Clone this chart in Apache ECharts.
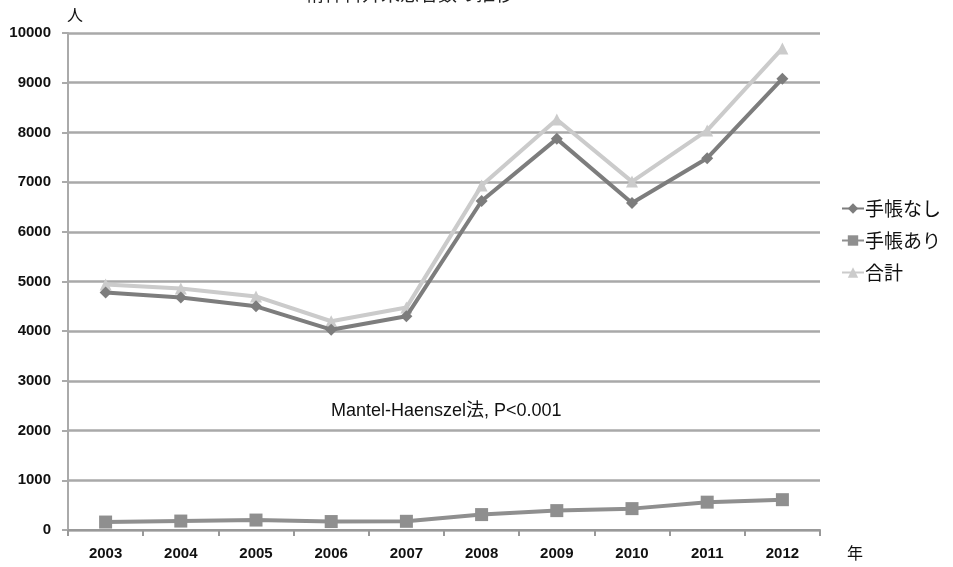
<!DOCTYPE html>
<html>
<head>
<meta charset="utf-8">
<script src="https://cdn.jsdelivr.net/npm/echarts@6/dist/echarts.min.js"></script>
<style>
  html, body { margin: 0; padding: 0; background: #ffffff; }
  #chart { width: 953px; height: 567px; }
</style>
</head>
<body>
<div id="chart"></div>
<script>
// Years on the category axis
const years = ['2003', '2004', '2005', '2006', '2007', '2008', '2009', '2010', '2011', '2012'];
// Patient counts per year
const noNotebook = [4780, 4680, 4500, 4030, 4300, 6620, 7870, 6580, 7480, 9080];
const withNotebook = [160, 180, 200, 170, 175, 310, 390, 430, 560, 610];
const total = [4940, 4860, 4700, 4200, 4475, 6930, 8260, 7010, 8040, 9690];
const yTicks = [0, 1000, 2000, 3000, 4000, 5000, 6000, 7000, 8000, 9000, 10000];

const chart = echarts.init(document.getElementById('chart'), null, { renderer: 'canvas' });
const cjk = '"Noto Sans CJK JP", "Noto Sans", sans-serif';
const latin = '"Liberation Sans", Arial, sans-serif';

chart.setOption({
  backgroundColor: '#ffffff',
  animation: false,
  title: {
    text: '精神科外来患者数の推移',
    left: 300,
    top: -21,
    textStyle: { fontFamily: cjk, fontSize: 19, fontWeight: 'normal', color: '#222' }
  },
  grid: { left: 68, right: 133, top: 33, bottom: 37, containLabel: false },
  legend: {
    orient: 'vertical',
    left: 836,
    top: 194,
    itemWidth: 22,
    itemHeight: 13,
    itemGap: 13,
    textStyle: { fontFamily: cjk, fontSize: 19, color: '#111', padding: [0, 0, 0, -4] },
    data: ['手帳なし', '手帳あり', '合計']
  },
  xAxis: {
    type: 'category',
    data: years,
    boundaryGap: true,
    axisLine: { lineStyle: { color: '#999', width: 2 } },
    axisTick: { show: true, length: 6, lineStyle: { color: '#999', width: 2 } },
    axisLabel: { fontFamily: latin, fontWeight: 'bold', fontSize: 15, color: '#111', margin: 16 }
  },
  yAxis: {
    type: 'value',
    min: 0,
    max: 10000,
    interval: 1000,
    axisLine: { show: true, lineStyle: { color: '#aaa', width: 2 } },
    axisTick: { show: true, length: 6, lineStyle: { color: '#aaa', width: 2 } },
    axisLabel: {
      fontFamily: latin, fontWeight: 'bold', fontSize: 15, color: '#111', margin: 17,
      formatter: v => (yTicks.includes(v) ? String(v) : '')
    },
    splitLine: { lineStyle: { color: '#a9a9a9', width: 2.5 } }
  },
  series: [
    {
      name: '合計',
      type: 'line',
      data: total,
      symbol: 'triangle',
      symbolSize: 12,
      lineStyle: { color: '#cbcbcb', width: 4 },
      itemStyle: { color: '#cbcbcb' },
      z: 2
    },
    {
      name: '手帳なし',
      type: 'line',
      data: noNotebook,
      symbol: 'diamond',
      symbolSize: 12,
      lineStyle: { color: '#7d7d7d', width: 4 },
      itemStyle: { color: '#7d7d7d' },
      z: 3
    },
    {
      name: '手帳あり',
      type: 'line',
      data: withNotebook,
      symbol: 'rect',
      symbolSize: 13,
      lineStyle: { color: '#8f8f8f', width: 4 },
      itemStyle: { color: '#8f8f8f' },
      z: 3
    }
  ],
  graphic: [
    {
      type: 'text',
      left: 331,
      top: 402,
      style: {
        text: 'Mantel-Haenszel法, P<0.001',
        font: '18px "Liberation Sans Narrow", "Liberation Sans", "Noto Sans CJK JP", sans-serif',
        fill: '#111'
      }
    },
    {
      type: 'text',
      left: 67,
      top: 7,
      style: { text: '人', font: '16px "Noto Sans CJK JP", sans-serif', fill: '#111' }
    },
    {
      type: 'text',
      left: 847,
      top: 545,
      style: { text: '年', font: '16px "Noto Sans CJK JP", sans-serif', fill: '#111' }
    }
  ]
});
</script>
</body>
</html>
